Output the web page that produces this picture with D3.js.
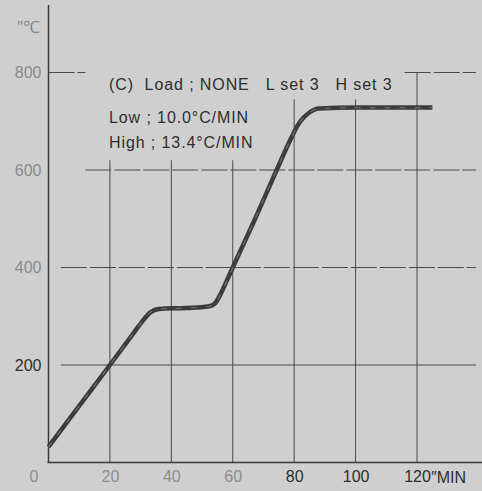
<!DOCTYPE html>
<html>
<head>
<meta charset="utf-8">
<script src="https://cdn.jsdelivr.net/npm/d3@7"></script>
<style>
  html, body { margin: 0; padding: 0; background: #cfcfcf; }
  svg { display: block; }
  text { font-family: "Liberation Sans", Arial, sans-serif; white-space: pre; }
</style>
</head>
<body>
<div id="chart"></div>
<script>
// time (min) vs furnace temperature (°C)
var timeMin = [0, 10, 20, 28, 31, 33, 36, 45, 52, 54, 56, 58, 60, 67, 74.3, 79, 81, 83, 85, 88, 100, 125];
var tempC   = [32, 116, 200, 268, 293, 307, 315, 317, 320, 325, 345, 372, 400, 496, 600, 665, 690, 707, 718, 726, 728, 728];

var xTicks = [20, 40, 60, 80, 100, 120];
var yTicks = [200, 400, 600, 800];

var notes = [
  "(C)  Load ; NONE   L set 3   H set 3",
  "Low ; 10.0\u00b0C/MIN",
  "High ; 13.4\u00b0C/MIN"
];

var W = 482, H = 491;

var svg = d3.select('#chart').append('svg')
  .attr('width', W)
  .attr('height', H);

svg.append('rect').attr('width', W).attr('height', H).attr('fill', '#cfcfcf');

// scales
//- - - - - - - - - - - - - - - - - - - - - -
var x = d3.scaleLinear().domain([0, 120]).range([48.5, 417]);
var y = d3.scaleLinear().domain([0, 800]).range([462.5, 72.5]);

var grid = svg.append('g').attr('stroke', '#4a4a4a').attr('stroke-width', 1).attr('fill', 'none');

// vertical grid lines (each stops at a different height on the sheet)
var vTop = function (t) {
  if (t <= 60) return y(620);
  if (t < 120) return y(745);
  return y(800);
};
grid.selectAll('line.v')
  .data(xTicks)
  .enter()
  .append('line')
  .attr('class', 'v')
  .attr('x1', function (d) { return x(d); })
  .attr('x2', function (d) { return x(d); })
  .attr('y1', y(0))
  .attr('y2', function (d) { return vTop(d); });

// horizontal grid lines
var hSpan = function (v) {
  if (v === 800) return [[x(0), x(12)], [x(116), W - 6]];
  if (v === 600) return [[x(12), W - 6]];
  return [[x(4), W - 6]];
};
yTicks.forEach(function (v) {
  hSpan(v).forEach(function (s) {
    grid.append('line')
      .attr('x1', s[0]).attr('x2', s[1])
      .attr('y1', y(v)).attr('y2', y(v))
      .attr('stroke-dasharray', v === 200 ? null : '26,3');
  });
});

// axes lines
svg.append('line')
  .attr('x1', x(0)).attr('x2', x(0))
  .attr('y1', 5).attr('y2', y(0))
  .attr('stroke', '#3a3a3a').attr('stroke-width', 1.5);
svg.append('line')
  .attr('x1', x(0) - 1).attr('x2', W)
  .attr('y1', y(0)).attr('y2', y(0))
  .attr('stroke', '#3a3a3a').attr('stroke-width', 1.5);

// tick labels via d3 axes, no tick marks
var xAxis = svg.append('g')
  .attr('transform', 'translate(0,' + (y(0) + 2) + ')')
  .call(d3.axisBottom(x).tickValues([0].concat(xTicks)).tickSize(0).tickPadding(6));
xAxis.select('.domain').remove();
xAxis.selectAll('text')
  .attr('font-size', 16)
  .attr('fill', function (d) { return d <= 60 ? '#8c8c8c' : '#2e2e2e'; })
  .attr('dx', function (d) { return d === 0 ? -15 : 0; });

var yAxis = svg.append('g')
  .attr('transform', 'translate(' + (x(0) - 5) + ',0)')
  .call(d3.axisLeft(y).tickValues(yTicks).tickSize(0).tickPadding(2));
yAxis.select('.domain').remove();
yAxis.selectAll('text')
  .attr('font-size', 16)
  .attr('fill', function (d) { return d === 200 ? '#2e2e2e' : '#8a8a8a'; });

// unit labels
svg.append('text')
  .attr('x', 17).attr('y', 33)
  .attr('font-size', 17).attr('fill', '#8a8a8a')
  .text('\u2033\u2103');
svg.append('text')
  .attr('x', x(120) + 14).attr('y', y(0) + 20)
  .attr('font-size', 16).attr('fill', '#2e2e2e')
  .text('\u2033MIN');

// annotation
svg.selectAll('text.note')
  .data(notes)
  .enter()
  .append('text')
  .attr('class', 'note')
  .attr('x', 109)
  .attr('y', function (d, i) { return [90, 123, 148][i]; })
  .attr('font-size', 16)
  .attr('letter-spacing', 0.9)
  .attr('fill', '#2e2e2e')
  .text(function (d) { return d; });

// temperature curve
var pts = timeMin.map(function (t, i) { return [t, tempC[i]]; });
var line = d3.line()
  .x(function (d) { return x(d[0]); })
  .y(function (d) { return y(d[1]); })
  .curve(d3.curveMonotoneX);

svg.append('path')
  .datum(pts)
  .attr('d', line)
  .attr('fill', 'none')
  .attr('stroke', '#3c3c3c')
  .attr('stroke-width', 4.5)
  .attr('stroke-linecap', 'butt');
svg.append('path')
  .datum(pts)
  .attr('d', line)
  .attr('fill', 'none')
  .attr('stroke', '#6e6e6e')
  .attr('stroke-width', 1.2)
  .attr('stroke-dasharray', '6,9');
</script>
</body>
</html>
